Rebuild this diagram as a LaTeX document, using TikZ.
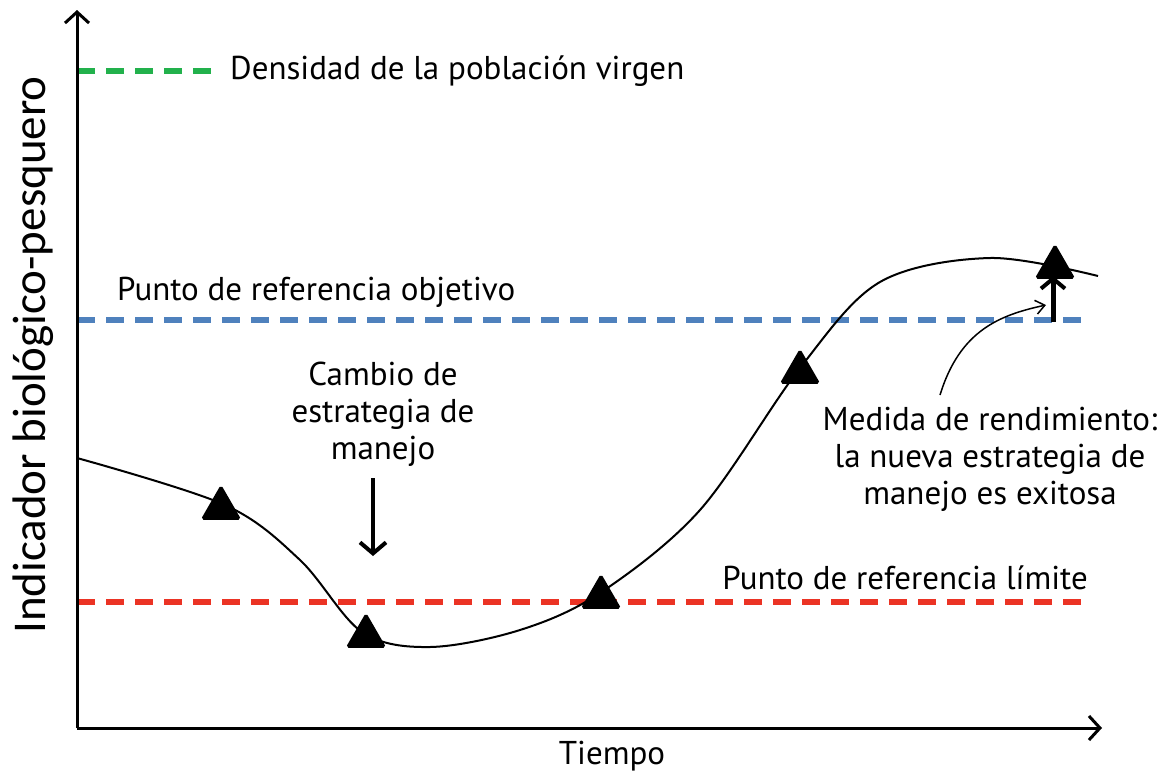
\documentclass[tikz,border=0pt]{standalone}
\usepackage{fontspec}
\setmainfont{PT Sans}
\newfontfamily\calib{Carlito}
\usetikzlibrary{shapes.geometric,arrows.meta}
\begin{document}
\begin{tikzpicture}[x=1pt,y=-1pt,
  lbl/.style={font=\fontsize{33}{37}\selectfont, inner sep=0pt, align=center},
  refline/.style={line width=6pt, dash pattern=on 18pt off 11pt},
  tri/.style={regular polygon, regular polygon sides=3, fill=black, draw=black, line width=2pt, rounded corners=1.5pt, minimum size=43pt, inner sep=0pt},
  axis/.style={line width=3pt, -{Straight Barb[length=11pt,width=24pt,line width=3pt]}}]
\useasboundingbox (0,0) rectangle (1168,777);
\definecolor{vgreen}{RGB}{34,177,76}
\definecolor{vblue}{RGB}{79,129,189}
\definecolor{vred}{RGB}{235,51,36}
% reference lines
\coordinate (g0) at (77,71); \coordinate (g1) at (212,71);
\coordinate (b0) at (77,320); \coordinate (b1) at (1092,320);
\coordinate (r0) at (77,602); \coordinate (r1) at (1092,602);
\draw[refline, vgreen] (g0) -- (g1);
\draw[refline, vblue] (b0) -- (b1);
\draw[refline, vred] (r0) -- (r1);
% axes
\coordinate (o) at (77,728);
\coordinate (ytop) at (77,10);
\coordinate (xend) at (1102,728);
\draw[axis] (o) -- (ytop);
\draw[axis] (o) -- (xend);
% labels
\node[lbl, anchor=west] (tg) at (230,71) {Densidad de la población virgen};
\node[lbl, anchor=west] (tb) at (117,292) {Punto de referencia objetivo};
\node[lbl, anchor=east] (tr) at (1088,578) {Punto de referencia límite};
\node[lbl] (tc) at (383,414) {Cambio de\\estrategia de\\manejo};
\node[lbl] (tm) at (990,459) {Medida de rendimiento:\\la nueva estrategia de\\manejo es exitosa};
\node[lbl] (tt) at (612,756) {Tiempo};
\node[rotate=90, font=\calib\fontsize{47}{56}\selectfont, inner sep=0pt] (ty) at (33,355) {Indicador biológico-pesquero};
% curve
\draw[line width=2pt] plot[smooth, tension=0.55] coordinates {(77,458) (225,505) (300,560) (362,632) (430,647) (520,630) (600,593) (700,510) (800,368) (880,282) (990,258) (1098,276)};
% triangles
\node[tri] (t1) at (221,508) {};
\node[tri] (t2) at (366,636) {};
\node[tri] (t3) at (601,597) {};
\node[tri] (t4) at (800,372) {};
\node[tri] (t5) at (1055,267) {};
% arrows
\coordinate (a0) at (373,478); \coordinate (a1) at (373,556);
\draw[line width=4.5pt, -{Straight Barb[length=11pt,width=26pt,line width=4pt]}] (a0) -- (a1);
\coordinate (u0) at (1053,322); \coordinate (u1) at (1053,276);
\draw[line width=5pt, -{Straight Barb[length=10pt,width=24pt,line width=4pt]}] (u0) -- (u1);
\coordinate (c0) at (940,395); \coordinate (c1) at (1046,305);
\draw[line width=1.5pt, -{Straight Barb[length=9pt,width=14pt,line width=1.5pt]}] (c0) .. controls (960,330) and (1000,315) .. (c1);
\end{tikzpicture}
\end{document}
